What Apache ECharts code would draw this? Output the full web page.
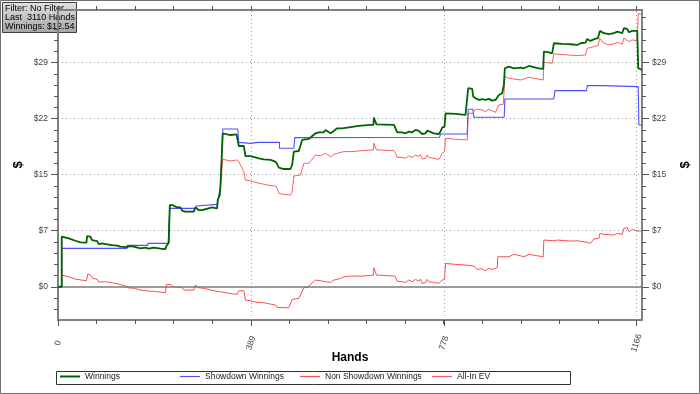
<!DOCTYPE html>
<html><head><meta charset="utf-8">
<script src="https://cdn.jsdelivr.net/npm/echarts@6/dist/echarts.min.js"></script>
<style>html,body{margin:0;padding:0;background:#fff}#c{width:700px;height:394px}</style>
</head><body><div id="c"></div>
<script>
// ---- data (hand, $ cumulative) ----
const winnings = [[0,0],[7.5,0],[7.5,6.47],[21.6,6.26],[35.1,5.95],[45.2,5.74],[57.3,5.70],[58.6,6.56],[65.3,6.47],[68.7,6.04],[78.8,5.91],[82.1,5.52],[88.8,5.61],[95.6,5.52],[109,5.39],[119.1,5.31],[125.8,5.18],[139.2,5.13],[141.3,4.88],[144,5.26],[152.7,5.18],[166.1,4.96],[176.2,5.05],[182.9,4.92],[193,5.05],[206.4,4.92],[216.5,4.88],[218.5,5.26],[223.2,5.7],[225.3,10.57],[230,10.57],[240,10.27],[246.8,10.27],[250.1,9.84],[256.8,9.71],[273.6,9.71],[277,10.27],[283.7,9.92],[290.4,9.92],[293.8,10.14],[310.6,10.27],[320.7,10.14],[322,11.22],[326.1,11.87],[327.4,13.03],[330.8,13.03],[332.1,19.85],[334.1,19.72],[347.6,19.63],[359.7,19.72],[362.4,19.85],[364.4,18.21],[374.5,18.21],[377.8,16.91],[387.9,16.91],[398,16.74],[404.7,16.61],[414.8,16.48],[428.2,16.4],[438.3,16.18],[441.7,15.88],[445,15.4],[455.1,15.23],[468.5,15.23],[471.9,15.75],[475.3,17.48],[485.3,17.56],[488.7,17.61],[492.1,18.99],[495.4,19.12],[505.5,19.12],[518.9,19.85],[525.7,19.98],[535.7,19.98],[539.1,20.28],[549.2,19.85],[555.9,20.15],[562.6,20.5],[572.7,20.5],[576.1,20.71],[606.3,20.8],[629.8,20.93],[635.8,20.93],[636.5,21.88],[639.9,21.88],[641.9,21.01],[676.8,20.93],[680.2,20.5],[683.6,19.98],[693.6,19.98],[700.4,19.85],[707.1,20.07],[713.8,19.98],[720.5,20.28],[727.2,20.15],[730.6,20.37],[733.9,19.76],[740.7,19.85],[744,20.19],[747.4,19.94],[757.5,19.85],[767.6,19.76],[770.9,20.07],[774.3,20.58],[779,20.71],[781,22.44],[801.2,22.36],[821.3,22.23],[824.7,22.31],[826.7,25.68],[834.8,25.6],[836.8,24.6],[841.5,24.39],[848.2,24.17],[855.1,24.26],[861.6,24.17],[868.4,24.3],[875.1,24.08],[881.8,24.16],[885.1,24.38],[888.5,24.81],[895.2,25.03],[898.6,26.11],[900.6,28.26],[908.7,28.48],[918.7,28.26],[932.2,28.35],[938.9,28.26],[949,28.56],[952.3,28.39],[969.1,28.26],[977.9,28.18],[979.2,30.42],[989.3,30.33],[996,30.2],[999.4,31.5],[1016.2,31.41],[1033,31.37],[1046.4,31.28],[1053.1,31.5],[1063.2,31.58],[1066.6,32.06],[1073.3,31.8],[1080,32.02],[1088.1,32.15],[1092.1,33.1],[1100.2,32.8],[1110.3,32.67],[1120.3,32.8],[1127.1,33.01],[1137.1,32.8],[1140.5,33.44],[1147.2,33.35],[1150.6,32.92],[1157.3,33.1],[1167.4,33.1],[1169.4,28.26],[1177,28.05]];

const showdown = [[0,0],[7.5,0],[7.5,4.96],[139.2,4.96],[139.2,5.35],[181,5.35],[181,5.61],[222,5.61],[225.3,10.14],[277,10.14],[278,10.44],[320.7,10.66],[324.1,11.87],[327.4,12.95],[332.1,20.41],[362.4,20.41],[364.4,18.68],[387.9,18.55],[402.7,18.68],[446.4,18.68],[446.4,17.91],[475.3,17.91],[477.3,19.29],[768.9,19.34],[770.9,19.76],[824.7,19.76],[826.7,22.96],[836.1,22.96],[838.1,21.93],[899.3,21.93],[900.6,24.29],[999.4,24.29],[1001.4,25.37],[1065.2,25.37],[1066.6,26.02],[1100.2,26.02],[1101.5,25.89],[1169.4,25.89],[1170.7,20.93],[1177,20.93]];

const nonShowdown = [[0,0],[7.5,0],[7.5,1.51],[21.6,1.29],[35.1,0.99],[48.5,0.86],[57.3,0.78],[60,1.64],[65.3,1.51],[70,1.08],[78.8,0.99],[82.1,0.6],[95.6,0.65],[109,0.52],[122.4,0.35],[135.9,0.09],[141.3,-0.13],[156,-0.22],[166.1,-0.43],[176.2,-0.52],[193,-0.6],[206.4,-0.69],[216.5,-0.78],[218.5,0.3],[226.6,0.3],[233.3,0],[250.1,-0.09],[253.5,-0.43],[273.6,-0.43],[277,0.22],[283.7,-0.13],[297.2,-0.22],[307.3,-0.43],[327.4,-0.65],[354.3,-0.95],[361,-0.95],[364.4,-0.52],[374.5,-0.52],[377.8,-1.73],[387.9,-1.81],[401.3,-2.03],[414.8,-2.07],[428.2,-2.24],[438.3,-2.37],[441.7,-2.68],[445,-2.8],[465.2,-2.72],[468.5,-2.59],[471.9,-1.64],[485.3,-1.51],[488.7,-1.42],[495.4,-0.13],[502.1,-0.09],[518.9,0.86],[529,0.78],[539.1,0.65],[549.2,0.56],[555.9,0.86],[569.3,1.08],[576.1,1.29],[589.5,1.38],[613,1.38],[635.8,1.51],[636.5,2.46],[639.9,2.46],[641.9,1.51],[678.9,1.38],[683.6,0.73],[693.6,0.65],[700.4,0.56],[707.1,0.87],[713.8,0.65],[720.5,0.95],[727.2,0.73],[730.6,1.0],[733.9,0.43],[740.7,0.52],[744,0.95],[747.4,0.65],[757.5,0.56],[767.6,0.43],[770.9,0.65],[774.3,0.87],[779,0.95],[781,3.02],[801.2,2.89],[821.3,2.81],[838.1,2.68],[844.8,2.24],[854.9,2.33],[861.6,2.07],[868.4,2.37],[875.1,2.24],[878.4,2.37],[885.1,2.46],[886.5,3.88],[908.7,3.88],[912,4.1],[918.7,4.19],[932.2,4.01],[938.9,3.88],[949,4.19],[952.3,4.01],[977.9,3.88],[979.2,6.04],[999.4,5.95],[1006.1,6.04],[1033,5.91],[1046.4,5.95],[1066.6,5.74],[1073.3,5.61],[1080,6.17],[1090.1,6.26],[1092.1,6.9],[1100.2,6.77],[1120.3,6.69],[1127.1,6.9],[1137.1,6.77],[1140.5,7.55],[1147.2,7.64],[1150.6,7.12],[1157.3,7.42],[1167.4,7.21],[1177,7.21]];

// All-In EV equals Winnings until hand 332, then these values
const allInEvFrom332 = [[332.1,16.48],[347.6,16.27],[359.7,16.4],[362.4,16.61],[364.4,16.18],[374.5,14.89],[377.8,13.81],[387.9,13.68],[401.3,13.46],[421.5,13.16],[438.3,13.03],[441.7,12.73],[445,12.08],[455.1,11.95],[468.5,11.87],[471.9,12.3],[475.3,14.33],[488.7,14.45],[495.4,15.97],[505.5,15.97],[518.9,17.04],[529,16.96],[539.1,17.26],[549.2,16.83],[555.9,17.13],[562.6,17.26],[576.1,17.48],[592.8,17.48],[613,17.61],[635.8,17.7],[636.5,18.56],[639.9,18.56],[641.9,17.7],[676.8,17.61],[680.2,17.27],[683.6,16.74],[693.6,16.74],[700.4,16.61],[707.1,16.91],[713.8,16.74],[720.5,17.04],[727.2,16.83],[730.6,17.13],[733.9,16.53],[740.7,16.61],[744,17.04],[747.4,16.74],[757.5,16.61],[767.6,16.48],[770.9,16.83],[774.3,17.27],[779,17.48],[781,19.21],[801.2,19.08],[824.7,18.99],[826.7,22.44],[836.8,22.44],[838.1,22.74],[844.8,22.96],[854.9,22.87],[861.6,22.66],[868.4,22.96],[875.1,22.74],[881.8,22.57],[885.1,22.74],[888.5,23.52],[897.2,23.6],[898.6,24.73],[900.6,27.19],[908.7,26.97],[918.7,26.88],[932.2,26.75],[938.9,26.88],[949,27.1],[952.3,26.88],[977.9,26.75],[979.2,29.04],[996,28.91],[999.4,30.12],[1046.4,29.9],[1063.2,29.99],[1066.6,30.85],[1073.3,30.94],[1080,31.07],[1088.1,31.2],[1092.1,32.15],[1100.2,31.5],[1110.3,31.28],[1120.3,31.41],[1127.1,31.63],[1137.1,31.37],[1140.5,32.15],[1150.6,31.71],[1157.3,31.93],[1167.4,31.8],[1169.4,35.38],[1177,35.2]];

const seriesNames = ['Winnings','Showdown Winnings','Non Showdown Winnings','All-In EV'];
const xMajorTicks = [0,389,778,1166];
const xTickLabels = ['0','389','778','1166'];
const yMajorTicks = [0,7.25,14.5,21.75,29];
const yTickLabels = ['$0','$7','$15','$22','$29'];
const infoLines = ['Filter: No Filter','Last  3110 Hands','Winnings: $12.54'];

// ---- build chart ----
const allInEv = winnings.filter(p => p[0] < 332).concat(allInEvFrom332);
const X_MIN = 0, X_MAX = 1177, Y_MIN = -4.3, Y_MAX = 35.8;
const xMinor = []; for (let i = 0; i <= 15; i++) xMinor.push(+(i * 1166 / 15).toFixed(2));
const yMinor = []; for (let k = -2; k <= 24; k++) yMinor.push(+(k * 1.45).toFixed(2));
const FONT = 'Liberation Sans, Arial, sans-serif';
const AXIS_GRAY = '#808080', TICK = '#555';

function pick(vals, labels, v){ let bi=0,bd=1e9; vals.forEach((t,i)=>{const d=Math.abs(t-v); if(d<bd){bd=d;bi=i;}}); return labels[bi]; }

function xAx(pos, ticks, len, withLabels, lineShow){
  const a = {type:'value', min:X_MIN, max:X_MAX, position:pos,
    axisLine:{show:lineShow, onZero:false, lineStyle:{color:AXIS_GRAY, width:2}},
    axisTick:{show:true, customValues:ticks, length:len, lineStyle:{color:TICK, width:1}},
    axisLabel:{show:false}, splitLine:{show:false}};
  if (withLabels){
    a.axisLabel = {show:true, customValues:xMajorTicks, formatter:v=>pick(xMajorTicks,xTickLabels,v),
      rotate:72, align:'center', verticalAlign:'middle', margin:23, fontSize:8.5, color:'#444', fontFamily:FONT};
    a.name = 'Hands'; a.nameLocation = 'middle'; a.nameGap = 38; a.nameMoveOverlap = false;
    a.nameTextStyle = {fontWeight:'bold', fontSize:12, color:'#000', fontFamily:FONT, verticalAlign:'middle'};
  }
  return a;
}
function yAx(pos, ticks, len, withLabels, lineShow){
  const a = {type:'value', min:Y_MIN, max:Y_MAX, position:pos,
    axisLine:{show:lineShow, onZero:false, lineStyle:{color:AXIS_GRAY, width:2}},
    axisTick:{show:true, customValues:ticks, length:len, lineStyle:{color:TICK, width:1}},
    axisLabel:{show:false}, splitLine:{show:false}};
  if (withLabels){
    a.axisLabel = {show:true, customValues:yMajorTicks, formatter:v=>pick(yMajorTicks,yTickLabels,v),
      margin:10, fontSize:8.5, color:'#444', fontFamily:FONT};
    a.name = '$'; a.nameLocation = 'middle'; a.nameGap = pos === 'left' ? 33 : 37; a.nameRotate = 90;
    a.nameMoveOverlap = false;
    a.nameTextStyle = {fontWeight:'bold', fontSize:13, color:'#000', fontFamily:FONT};
  }
  return a;
}

const colors = ['#006400','#4f4fff','#ff4d4d','#ff5c5c'];
const dataSets = [winnings, showdown, nonShowdown, allInEv];
const widths = [1.8, 1.1, 1, 1];
const zs = [6, 5, 4, 3];

const series = dataSets.map((d,i)=>({
  name:seriesNames[i], type:'line', data:d, symbol:'none', showSymbol:false,
  lineStyle:{color:colors[i], width:widths[i]}, itemStyle:{color:colors[i]},
  z:zs[i], animation:false, silent:true, xAxisIndex:0, yAxisIndex:0
}));
const dot = {color:'#9a9a9a', type:[1,3], width:1};
series.unshift({name:'grid', type:'line', data:[[0,0]], symbol:'none', lineStyle:{opacity:0}, z:1, silent:true, animation:false,
  markLine:{silent:true, symbol:'none', animation:false, label:{show:false},
    lineStyle:dot,
    data:[{xAxis:389},{xAxis:778},{xAxis:1166},{yAxis:7.25},{yAxis:14.5},{yAxis:21.75},{yAxis:29},
          {yAxis:0, lineStyle:{color:'#7a7a7a', type:'solid', width:1.5}}]}});

const legendLefts = [60, 180, 300, 432];
const legend = seriesNames.map((n,i)=>({data:[n], left:legendLefts[i], top:372, icon:'rect', itemWidth:20,
  itemHeight: i===0 ? 2 : 1.2, itemGap:0, padding:0, selectedMode:false, z:5,
  textStyle:{fontSize:8.5, color:'#222', fontFamily:FONT}}));

const chart = echarts.init(document.getElementById('c'), null, {renderer:'canvas'});
chart.setOption({
  animation:false,
  backgroundColor:'#ffffff',
  grid:{left:58, right:58, top:10, bottom:74, containLabel:false},
  xAxis:[xAx('bottom', xMinor, 4, false, true), xAx('bottom', xMajorTicks, 6, true, false), xAx('top', xMinor, 4, false, true)],
  yAxis:[yAx('left', yMinor, 4, false, true), yAx('left', yMajorTicks, 7, true, false),
         yAx('right', yMinor, 4, false, true), yAx('right', yMajorTicks, 7, true, false)],
  legend: legend,
  series: series,
  graphic:[
    {type:'rect', z:1, shape:{x:56.5, y:371.5, width:514, height:13}, style:{fill:'#fff', stroke:'#333', lineWidth:1}},
    {type:'group', z:100, children:[
      {type:'rect', shape:{x:2.5, y:2.5, width:74, height:30},
        style:{fill:new echarts.graphic.LinearGradient(0,0,0,1,[{offset:0,color:'#e2e2e2'},{offset:1,color:'#a4a4a4'}]), stroke:'#404040', lineWidth:1}},
      {type:'text', x:5, y:8.5, style:{text:infoLines[0], font:'9px Liberation Sans', fill:'#000', textVerticalAlign:'middle'}},
      {type:'text', x:5, y:17.8, style:{text:infoLines[1], font:'9px Liberation Sans', fill:'#000', textVerticalAlign:'middle'}},
      {type:'text', x:5, y:27, style:{text:infoLines[2], font:'9px Liberation Sans', fill:'#000', textVerticalAlign:'middle'}}
    ]},
    {type:'rect', z:100, shape:{x:0.5, y:0.5, width:699, height:393}, style:{fill:'none', stroke:'#6e6e6e', lineWidth:1}}
  ]
});
</script></body></html>
